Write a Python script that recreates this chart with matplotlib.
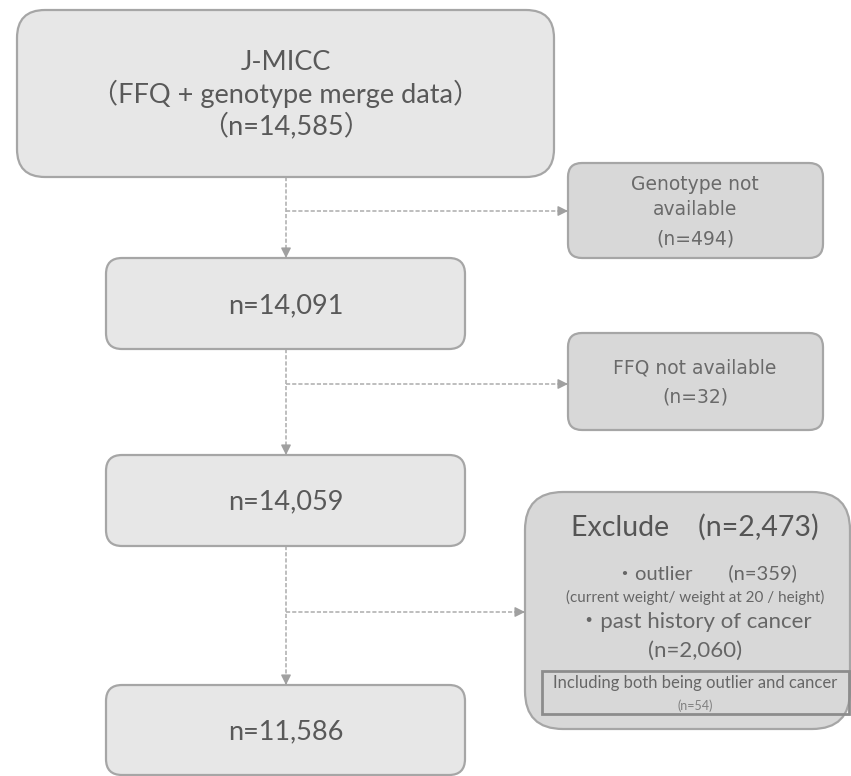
import matplotlib.pyplot as plt
from matplotlib.patches import FancyBboxPatch, Rectangle

# flow counts
main_counts = [14585, 14091, 14059, 11586]
excluded_counts = [494, 32, 2473]
outlier_n = 359
cancer_n = 2060
both_n = 54

main_title = ["J-MICC", "（FFQ + genotype merge data）"]
side_labels = ["Genotype not\navailable", "FFQ not available"]

CJK = ['Lato', 'Noto Sans CJK JP', 'DejaVu Sans']
TXT = '#595959'
EDGE = '#a6a6a6'
LINE = '#b3b3b3'

fig = plt.figure(figsize=(8.51, 7.76), dpi=100)
ax = fig.add_axes([0, 0, 1, 1])
ax.set_xlim(0, 851)
ax.set_ylim(776, 0)
ax.axis('off')


def rbox(x0, y0, x1, y1, r, fc, ec=EDGE, lw=1.6):
    p = FancyBboxPatch((x0, y0), x1 - x0, y1 - y0,
                       boxstyle="round,pad=0,rounding_size={}".format(r),
                       fc=fc, ec=ec, lw=lw, zorder=2)
    ax.add_patch(p)


def arrow(x0, y0, x1, y1):
    ax.plot([x0, x1], [y0, y1], color=LINE, lw=1.2, ls=(0, (2.5, 1.2)), zorder=1)
    dx = 0 if x0 == x1 else (8 if x1 > x0 else -8)
    dy = 0 if y0 == y1 else (8 if y1 > y0 else -8)
    ax.annotate('', xy=(x1, y1), xytext=(x1 - dx, y1 - dy),
                arrowprops=dict(arrowstyle='-|>,head_length=0.6,head_width=0.3',
                                color='#a0a0a0', lw=1.0, shrinkA=0, shrinkB=0),
                zorder=3)


cx = 286
main_fc = '#e7e7e7'
side_fc = '#d8d8d8'

# main boxes
rbox(17, 10, 554, 177, 28, main_fc)
rbox(106, 258, 465, 349, 16, main_fc)
rbox(106, 455, 465, 546, 16, main_fc)
rbox(106, 685, 465, 775, 16, main_fc)

ax.text(cx, 62, main_title[0], ha='center', va='center', fontsize=19.5,
        color=TXT, family=CJK)
ax.text(cx, 94, main_title[1], ha='center', va='center', fontsize=19.5,
        color=TXT, family=CJK)
ax.text(cx, 126, "（n={:,}）".format(main_counts[0]), ha='center', va='center',
        fontsize=19.5, color=TXT, family=CJK)
for yc, n in zip([306, 502, 732], main_counts[1:]):
    ax.text(cx, yc, "n={:,}".format(n), ha='center', va='center',
            fontsize=19.5, color=TXT, family=CJK)

# side boxes
rbox(568, 163, 823, 258, 14, side_fc)
rbox(568, 333, 823, 430, 14, side_fc)
rbox(525, 492, 850, 729, 38, side_fc)

ax.text(695, 197, side_labels[0], ha='center', va='center', fontsize=13.5,
        color='#6a6a6a', family='DejaVu Sans', linespacing=1.4)
ax.text(695, 239, "(n={})".format(excluded_counts[0]), ha='center', va='center',
        fontsize=13.5, color='#6a6a6a', family='DejaVu Sans')
ax.text(695, 368, side_labels[1], ha='center', va='center', fontsize=13.5,
        color='#6a6a6a', family='DejaVu Sans')
ax.text(695, 397, "(n={})".format(excluded_counts[1]), ha='center', va='center',
        fontsize=13.5, color='#6a6a6a', family='DejaVu Sans')

ex = 695
ax.text(ex, 527, "Exclude    (n={:,})".format(excluded_counts[2]), ha='center',
        va='center', fontsize=20.5, color='#555555', family=CJK)
ax.text(706, 573, "・outlier       (n={})".format(outlier_n), ha='center',
        va='center', fontsize=14.5, color='#666666', family=CJK)
ax.text(ex, 597, "(current weight/ weight at 20 / height)", ha='center',
        va='center', fontsize=11, color='#666666', family=CJK)
ax.text(ex, 622, "・past history of cancer", ha='center', va='center',
        fontsize=16, color='#666666', family=CJK)
ax.text(ex, 651, "(n={:,})".format(cancer_n), ha='center', va='center',
        fontsize=16, color='#666666', family=CJK)
ax.add_patch(Rectangle((542, 671), 307, 43, fc='none', ec='#8c8c8c', lw=2, zorder=3))
ax.text(ex, 683, "Including both being outlier and cancer", ha='center',
        va='center', fontsize=12, color='#666666', family=CJK)
ax.text(ex, 706, "(n={})".format(both_n), ha='center', va='center',
        fontsize=9, color='#808080', family=CJK)

# connectors
arrow(cx, 177, cx, 258)
arrow(cx, 349, cx, 455)
arrow(cx, 546, cx, 685)
arrow(cx, 211, 568, 211)
arrow(cx, 384, 568, 384)
arrow(cx, 612, 525, 612)

fig.savefig('out.png', dpi=100)
